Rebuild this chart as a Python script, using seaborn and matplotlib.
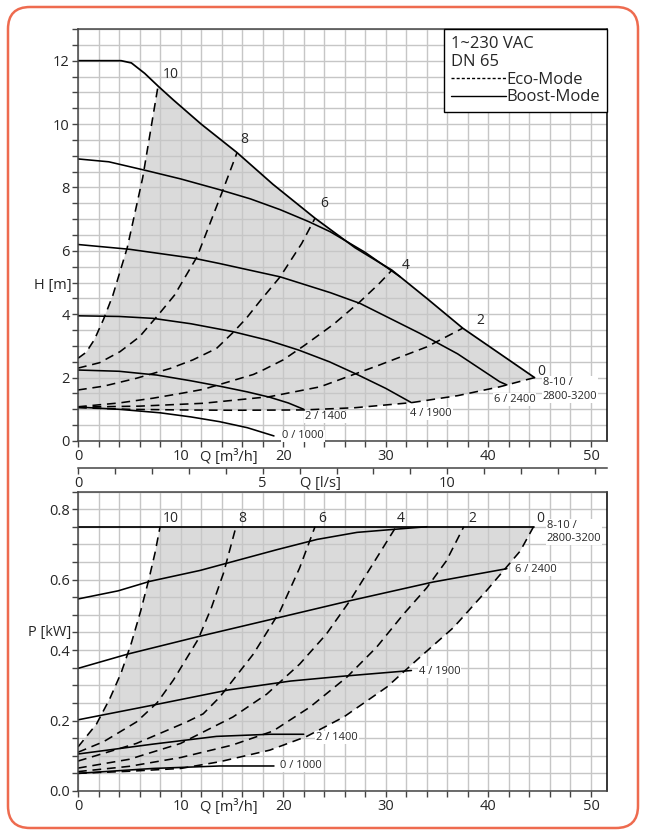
import matplotlib
matplotlib.use("Agg")
import matplotlib.pyplot as plt
import seaborn as sns
from matplotlib.lines import Line2D
from matplotlib.patches import FancyBboxPatch
from matplotlib.transforms import IdentityTransform, blended_transform_factory
from matplotlib.ticker import MultipleLocator

# ---- data: H [m] over Q [m3/h] ----
q_max = [0, 4.2, 5.2, 6.5, 7.8, 9.3, 12.0, 15.5, 19.0, 23.1, 27.0, 30.6, 34.0, 37.5, 41.0, 44.5]
h_max = [12.0, 12.0, 11.93, 11.6, 11.2, 10.76, 10.0, 9.1, 8.1, 7.03, 6.1, 5.39, 4.5, 3.56, 2.78, 2.0]

q_s8 = [0, 3, 6.7, 10, 13.8, 16.8, 19.7, 22.5, 24.6, 28.0, 31.4]
h_s8 = [8.9, 8.81, 8.53, 8.27, 7.93, 7.64, 7.3, 6.92, 6.6, 5.95, 5.18]
q_s6 = [0, 5, 11.4, 13.8, 19.7, 24.6, 27.5, 33.3, 37.0, 41.1, 41.8]
h_s6 = [6.2, 6.05, 5.76, 5.6, 5.18, 4.68, 4.34, 3.4, 2.75, 1.87, 1.77]
q_s4 = [0, 4, 7.3, 11, 15.1, 18.5, 21.5, 24.5, 27.2, 30.0, 32.5]
h_s4 = [3.95, 3.93, 3.87, 3.7, 3.45, 3.18, 2.87, 2.5, 2.1, 1.66, 1.21]
q_s2 = [0, 4, 7.7, 11, 13.8, 16.5, 18.7, 20.5, 22.0]
h_s2 = [2.24, 2.2, 2.08, 1.9, 1.73, 1.55, 1.38, 1.2, 1.0]
q_s0 = [0, 4, 8, 11, 13.8, 16.5, 19.1]
h_s0 = [1.07, 1.0, 0.89, 0.76, 0.61, 0.42, 0.16]

q_e10 = [0, 0.8, 1.6, 2.5, 3.4, 4.8, 6.3, 7.8]
h_e10 = [2.61, 2.8, 3.2, 3.85, 4.6, 6.1, 8.3, 11.2]
q_e8 = [0, 2.1, 4.1, 6.0, 7.8, 9.4, 11.6, 14.2, 15.5]
h_e8 = [2.3, 2.47, 2.82, 3.29, 3.97, 4.6, 5.81, 7.98, 9.1]
q_e6 = [0, 2.5, 5.7, 9.0, 11.2, 13.5, 15.1, 16.4, 17.7, 19.7, 21.8, 23.1]
h_e6 = [1.61, 1.73, 1.98, 2.29, 2.56, 2.92, 3.42, 3.87, 4.4, 5.18, 6.23, 7.03]
q_e4 = [0, 4, 7.3, 10, 12.2, 14.5, 17.1, 18.1, 20.0, 22.0, 24.9, 27.5, 29.3, 30.6]
h_e4 = [1.08, 1.2, 1.35, 1.5, 1.63, 1.85, 2.1, 2.25, 2.56, 3.0, 3.68, 4.4, 4.95, 5.39]
q_e2 = [0, 6, 12.2, 18.7, 23.6, 29.4, 34.0, 37.5]
h_e2 = [1.07, 1.1, 1.19, 1.4, 1.71, 2.4, 2.97, 3.56]
q_e0 = [0, 5, 10, 15, 22, 27, 32.5, 37, 41.1, 44.5]
h_e0 = [1.05, 1.0, 0.98, 0.97, 0.98, 1.05, 1.21, 1.43, 1.71, 2.0]

# ---- data: P [kW] over Q [m3/h] ----
q_pmax = [0, 44.4]
p_pmax = [0.75, 0.75]
q_p8 = [0, 3.9, 7.0, 11.9, 14.7, 19.4, 23.3, 27.2, 31.4, 34.0]
p_p8 = [0.545, 0.568, 0.595, 0.626, 0.648, 0.685, 0.714, 0.734, 0.744, 0.75]
q_p6 = [0, 4.9, 11.7, 19.4, 26.5, 34.6, 41.8]
p_p6 = [0.348, 0.389, 0.438, 0.491, 0.54, 0.593, 0.631]
q_p4 = [0, 7.7, 14.7, 20.7, 25.5, 32.5]
p_p4 = [0.202, 0.246, 0.287, 0.312, 0.325, 0.342]
q_p2 = [0, 7.3, 13.5, 18.7, 22.0]
p_p2 = [0.105, 0.133, 0.155, 0.161, 0.161]
q_p0 = [0, 7.3, 13.8, 19.1]
p_p0 = [0.05, 0.064, 0.071, 0.071]

q_pe10 = [0, 1.8, 3.1, 4.2, 5.2, 6.1, 6.9, 7.5, 8.0]
p_pe10 = [0.125, 0.19, 0.262, 0.335, 0.42, 0.51, 0.6, 0.675, 0.75]
q_pe8 = [0, 2.5, 5.7, 7.7, 9.3, 11.7, 13.0, 14.2, 15.4]
p_pe8 = [0.11, 0.14, 0.196, 0.25, 0.315, 0.43, 0.52, 0.62, 0.75]
q_pe6 = [0, 5.7, 10.6, 12.2, 13.8, 17.1, 19.7, 21.6, 23.1]
p_pe6 = [0.085, 0.135, 0.196, 0.219, 0.266, 0.389, 0.511, 0.633, 0.75]
q_pe4 = [0, 5, 10, 15.1, 18.4, 21.6, 24.2, 26.5, 28.5, 31.0]
p_pe4 = [0.065, 0.09, 0.135, 0.21, 0.275, 0.36, 0.445, 0.54, 0.633, 0.75]
q_pe2 = [0, 5, 10, 15, 19, 22.6, 26.2, 29.1, 31.7, 34.0, 35.9, 37.6]
p_pe2 = [0.055, 0.07, 0.095, 0.13, 0.17, 0.238, 0.323, 0.408, 0.501, 0.577, 0.653, 0.75]
q_pe0 = [0, 5, 10, 13.8, 18.7, 22.3, 25.9, 30.1, 33.3, 36.6, 39.8, 43.1, 44.4]
p_pe0 = [0.05, 0.056, 0.064, 0.083, 0.116, 0.155, 0.21, 0.295, 0.379, 0.464, 0.568, 0.681, 0.75]

# labels
eco_labels = ["10", "8", "6", "4", "2", "0"]
h_lab_q = [8.3, 15.8, 23.6, 31.6, 38.8, 44.8]
h_lab_h = [11.55, 9.5, 7.48, 5.55, 3.79, 2.2]
p_lab_q = [8.3, 15.6, 23.4, 31.1, 38.0, 44.7]
speed_labels = ["0 / 1000", "2 / 1400", "4 / 1900", "6 / 2400", "8-10 /\n2800-3200"]
h_sp_q = [19.9, 22.1, 32.4, 40.5, 45.3]
h_sp_h = [0.16, 0.76, 0.87, 1.31, 1.63]
p_sp_q = [19.7, 23.2, 33.2, 42.6, 45.7]
p_sp_p = [0.071, 0.152, 0.338, 0.629, 0.735]

sns.set_style("white")
plt.rcParams['font.family'] = ['Open Sans', 'DejaVu Sans']

W, H = 645, 835
fig = plt.figure(figsize=(W / 100, H / 100), dpi=100)
ax1 = fig.add_axes([78 / W, (H - 441) / H, 529 / W, 412 / H])
ax2 = fig.add_axes([78 / W, (H - 791) / H, 529 / W, 299.5 / H])

grid_c = '#c6c6c6'
spine_c = '#444444'
fill_c = '#dadada'


def curve(ax, q, v, dashed=False, lw=1.15):
    sns.lineplot(x=q, y=v, ax=ax, color='black', lw=lw, sort=False,
                 estimator=None, legend=False)
    if dashed:
        ax.lines[-1].set_dashes([5.5, 3.6])


def style_axes(ax, ymax, ymajor, yminor, fmt):
    ax.set_xlim(0, 51.56)
    ax.set_ylim(0, ymax)
    ax.xaxis.set_major_locator(MultipleLocator(10))
    ax.xaxis.set_minor_locator(MultipleLocator(2))
    ax.yaxis.set_major_locator(MultipleLocator(ymajor))
    ax.yaxis.set_minor_locator(MultipleLocator(yminor))
    ax.yaxis.set_major_formatter(fmt)
    ax.grid(True, which='both', color=grid_c, lw=1.0)
    ax.set_axisbelow('line')
    for s in ax.spines.values():
        s.set_color(spine_c)
        s.set_linewidth(1.1)
    ax.spines['right'].set_color('black')
    ax.tick_params(which='both', direction='out', length=4, width=1,
                   color=spine_c, labelsize=10.5, pad=2,
                   bottom=True, left=True)
    ax.set_xlabel('')
    ax.set_ylabel('')


# ---------- top: H ----------
poly_q = q_e10 + q_max[5:] + q_e0[::-1]
poly_h = h_e10 + h_max[5:] + h_e0[::-1]
ax1.fill(poly_q, poly_h, color=fill_c, lw=0, zorder=1)

curve(ax1, q_max, h_max, lw=1.25)
for q, v in [(q_s8, h_s8), (q_s6, h_s6), (q_s4, h_s4), (q_s2, h_s2), (q_s0, h_s0)]:
    curve(ax1, q, v)
for q, v in [(q_e10, h_e10), (q_e8, h_e8), (q_e6, h_e6), (q_e4, h_e4),
             (q_e2, h_e2), (q_e0, h_e0)]:
    curve(ax1, q, v, dashed=True)

style_axes(ax1, 13, 2, 0.5, '{x:g}')

for t, q, v in zip(eco_labels, h_lab_q, h_lab_h):
    ax1.text(q, v, t, fontsize=10, ha='left', va='center')
for t, q, v in zip(speed_labels, h_sp_q, h_sp_h):
    ax1.text(q, v, t, fontsize=8, ha='left', va='center', linespacing=1.35,
             bbox=dict(facecolor='white', edgecolor='none', pad=0.6))

ax1.text(-0.012, 4.92, 'H [m]', transform=blended_transform_factory(ax1.transAxes, ax1.transData),
         ha='right', va='center', fontsize=10.5)
ax1.annotate('Q [m³/h]', xy=(11.9, 0), xycoords=('data', 'axes fraction'),
             xytext=(0, -6), textcoords='offset points', ha='left', va='top', fontsize=10.5)

# Q in l/s
sec = ax1.secondary_xaxis(-0.066, functions=(lambda q: q / 3.6, lambda l: l * 3.6))
sec.set_xticks([0, 5, 10])
sec.xaxis.set_minor_locator(MultipleLocator(1))
sec.tick_params(which='both', direction='out', length=4, width=1, color=spine_c,
                labelsize=10.5, pad=1.5)
sec.spines['bottom'].set_color(spine_c)
sec.spines['bottom'].set_linewidth(1.1)
ax1.annotate('Q [l/s]', xy=(21.6, -0.066), xycoords=('data', 'axes fraction'),
             xytext=(0, -5.5), textcoords='offset points', ha='left', va='top', fontsize=10.5)

# legend box
handles = [Line2D([], [], color='black', lw=1.0, dashes=[2.2, 1.5]),
           Line2D([], [], color='black', lw=1.0)]
leg = ax1.legend(handles, ['Eco-Mode', 'Boost-Mode'], title='1~230 VAC\nDN 65',
                 alignment='left', loc='upper right', bbox_to_anchor=(1, 1),
                 borderaxespad=0, fancybox=False, edgecolor='black', framealpha=1,
                 fontsize=12, title_fontsize=12, handlelength=3.3,
                 handletextpad=0.05, borderpad=0.4, labelspacing=0.1)
leg.get_frame().set_linewidth(1.0)
leg.set_zorder(5)

# ---------- bottom: P ----------
ppoly_q = q_pe10 + q_pmax[1:] + q_pe0[::-1]
ppoly_p = p_pe10 + p_pmax[1:] + p_pe0[::-1]
ax2.fill(ppoly_q, ppoly_p, color=fill_c, lw=0, zorder=1)

curve(ax2, q_pmax, p_pmax, lw=1.25)
for q, v in [(q_p8, p_p8), (q_p6, p_p6), (q_p4, p_p4), (q_p2, p_p2), (q_p0, p_p0)]:
    curve(ax2, q, v)
for q, v in [(q_pe10, p_pe10), (q_pe8, p_pe8), (q_pe6, p_pe6), (q_pe4, p_pe4),
             (q_pe2, p_pe2), (q_pe0, p_pe0)]:
    curve(ax2, q, v, dashed=True)

style_axes(ax2, 0.85, 0.2, 0.05, '{x:.1f}')

for t, q in zip(eco_labels, p_lab_q):
    ax2.text(q, 0.773, t, fontsize=10, ha='left', va='center')
for t, q, v in zip(speed_labels, p_sp_q, p_sp_p):
    ax2.text(q, v, t, fontsize=8, ha='left', va='center', linespacing=1.35,
             bbox=dict(facecolor='white', edgecolor='none', pad=0.6))

ax2.text(-0.012, 0.449, 'P [kW]', transform=blended_transform_factory(ax2.transAxes, ax2.transData),
         ha='right', va='center', fontsize=10.5)
ax2.annotate('Q [m³/h]', xy=(11.9, 0), xycoords=('data', 'axes fraction'),
             xytext=(0, -6), textcoords='offset points', ha='left', va='top', fontsize=10.5)

# orange rounded frame
frame = FancyBboxPatch((8, 7), 630, 821, boxstyle='round,pad=0,rounding_size=22',
                       transform=IdentityTransform(), fill=False,
                       edgecolor='#ee6b4f', lw=1.8)
fig.add_artist(frame)

fig.savefig('out.png', dpi=100, facecolor='white')
plt.close(fig)
